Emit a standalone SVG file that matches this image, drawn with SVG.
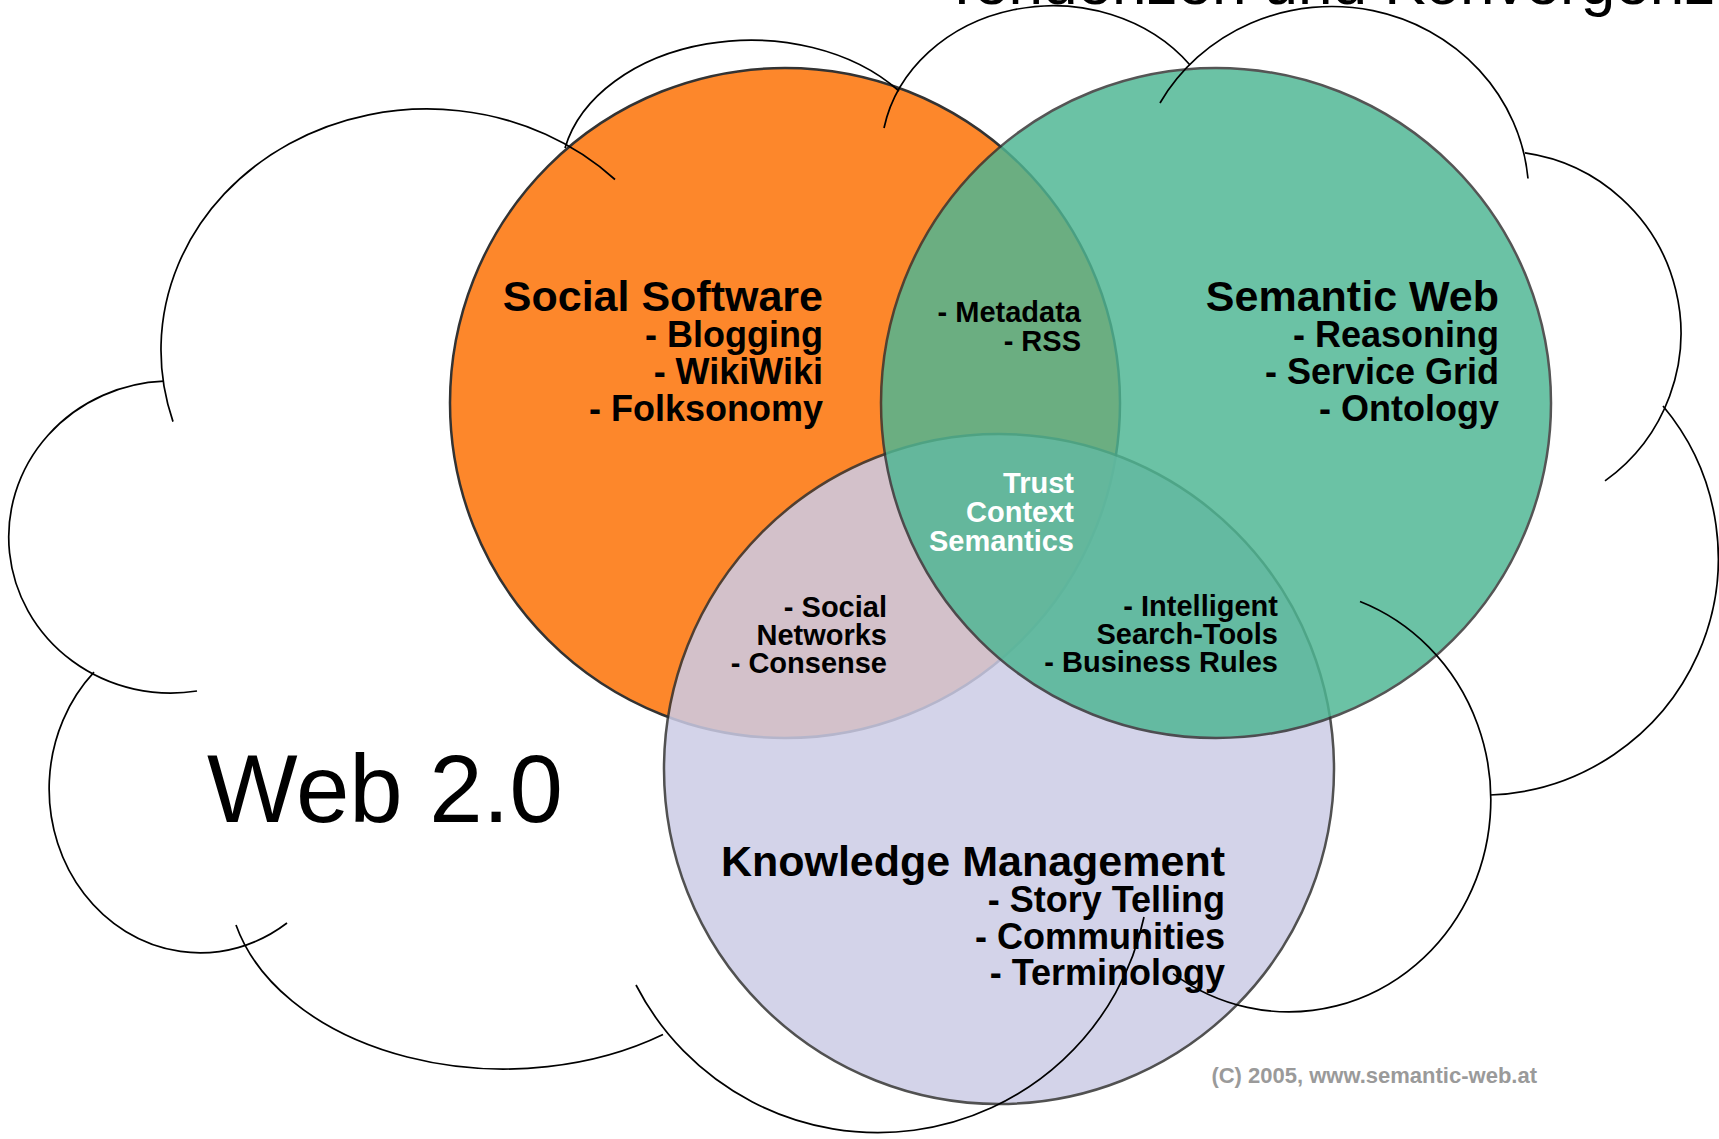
<svg xmlns="http://www.w3.org/2000/svg" width="1719" height="1139" viewBox="0 0 1719 1139">
<style>
.circ{stroke:#333;stroke-width:2.5}
.cloud{fill:none;stroke:#000;stroke-width:1.7}
.t{font-family:"Liberation Sans",Arial,Helvetica,sans-serif;font-weight:bold;text-anchor:end;fill:#000}
.h{font-size:43px}
.i{font-size:36px}
.s{font-size:29px}
.w{fill:#fff}
</style>
<rect width="1719" height="1139" fill="#fff"/>
<text x="943" y="4" font-family="Liberation Sans,Arial,sans-serif" font-size="62" fill="#000">Tendenzen und Konvergenz</text>
<g id="social-software">
<circle class="circ" cx="785" cy="403" r="335" fill="#FD872B"/>
</g>
<g id="knowledge-management">
<circle class="circ" cx="999" cy="769" r="335" fill="#CCCCE6" opacity="0.85"/>
</g>
<g id="semantic-web">
<circle class="circ" cx="1216" cy="403" r="335" fill="#4EB693" opacity="0.83"/>
</g>
<g id="labels">
<text class="t h" x="823" y="311">Social Software</text>
<text class="t i" x="823" y="347">- Blogging</text>
<text class="t i" x="823" y="384">- WikiWiki</text>
<text class="t i" x="823" y="421">- Folksonomy</text>
<text class="t h" x="1499" y="311">Semantic Web</text>
<text class="t i" x="1499" y="347">- Reasoning</text>
<text class="t i" x="1499" y="384">- Service Grid</text>
<text class="t i" x="1499" y="421">- Ontology</text>
<text class="t h" x="1225" y="876">Knowledge Management</text>
<text class="t i" x="1225" y="912">- Story Telling</text>
<text class="t i" x="1225" y="949">- Communities</text>
<text class="t i" x="1225" y="985">- Terminology</text>
<text class="t s" x="1081" y="322">- Metadata</text>
<text class="t s" x="1081" y="351">- RSS</text>
<text class="t s w" x="1074" y="493">Trust</text>
<text class="t s w" x="1074" y="522">Context</text>
<text class="t s w" x="1074" y="551">Semantics</text>
<text class="t s" x="887" y="617">- Social</text>
<text class="t s" x="887" y="645">Networks</text>
<text class="t s" x="887" y="673">- Consense</text>
<text class="t s" x="1278" y="616">- Intelligent</text>
<text class="t s" x="1278" y="644">Search-Tools</text>
<text class="t s" x="1278" y="672">- Business Rules</text>
</g>
<g id="web20">
<path class="cloud" d="M173,421.6 A266,241 0 0,1 615,179.5"/>
<path class="cloud" d="M565,148 A190,136 0 0,1 899,91"/>
<path class="cloud" d="M884,128 A172,150 0 0,1 1190,65"/>
<path class="cloud" d="M1160,103 A197,189 0 0,1 1528,178.5"/>
<path class="cloud" d="M1525,152.9 A182,182 0 0,1 1605,480.9"/>
<path class="cloud" d="M1663,406 A237,237 0 0,1 1490,795"/>
<path class="cloud" d="M1360,601.5 A202,212 0 1,1 1173,973.6"/>
<path class="cloud" d="M636,985 A272,272 0 0,0 1144,917"/>
<path class="cloud" d="M236,925 A276,189 0 0,0 663,1034.5"/>
<path class="cloud" d="M94,672.2 A151,164 0 0,0 287,923"/>
<path class="cloud" d="M164,381.2 A162,156 0 1,0 197,691"/>
<text x="207" y="822" font-family="Liberation Sans,Arial,sans-serif" font-size="96" fill="#000">Web 2.0</text>
</g>
<text x="1537" y="1083" font-family="Liberation Sans,Arial,sans-serif" font-weight="bold" font-size="22" fill="#9a9a9a" text-anchor="end">(C) 2005, www.semantic-web.at</text>
</svg>
